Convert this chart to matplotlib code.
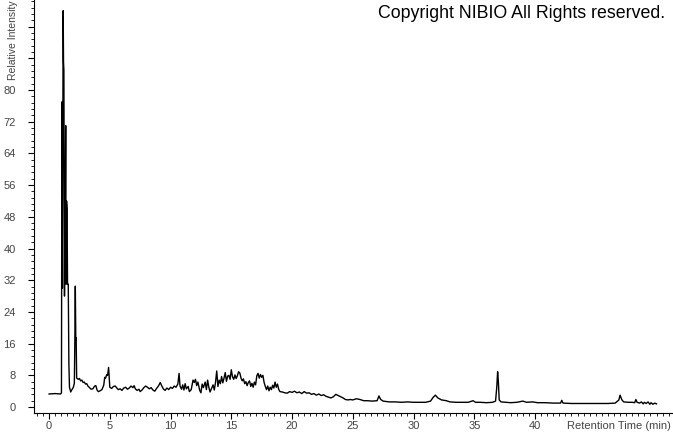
import matplotlib.pyplot as plt
from matplotlib.ticker import MultipleLocator, FixedLocator

plt.rcParams['font.family'] = ['Liberation Sans', 'DejaVu Sans']

# retention time (min) and relative intensity
time_min = [
    0.0, 0.5, 0.95, 1.02, 1.06, 1.10, 1.16, 1.19, 1.22, 1.25, 1.27, 1.30, 1.33,
    1.37, 1.40, 1.44, 1.48, 1.52, 1.58, 1.63, 1.68, 1.78, 1.9, 2.0, 2.08, 2.12,
    2.16, 2.20, 2.23, 2.27, 2.4, 2.5, 2.6, 2.7, 2.8, 2.9, 3.0, 3.1, 3.2, 3.3,
    3.45, 3.6, 3.75, 3.85, 3.95, 4.05, 4.2, 4.35, 4.5, 4.58, 4.65, 4.75, 4.82,
    4.9, 4.96, 5.0, 5.15, 5.3, 5.45, 5.55, 5.7, 5.85, 6.0, 6.15, 6.3, 6.45,
    6.6, 6.75, 6.9, 7.0, 7.1, 7.25, 7.4, 7.5, 7.65, 7.8, 7.95, 8.1, 8.25, 8.4,
    8.55, 8.7, 8.85, 9.0, 9.15, 9.25, 9.4, 9.55, 9.7, 9.85, 10.0, 10.15, 10.3,
    10.45, 10.6, 10.7, 10.78, 10.9, 11.0, 11.1, 11.2, 11.3, 11.45, 11.55, 11.7,
    11.85, 11.95, 12.05, 12.15, 12.25, 12.4, 12.5, 12.6, 12.7, 12.85, 12.95,
    13.05, 13.15, 13.25, 13.35, 13.5, 13.6, 13.7, 13.8, 13.9, 14.0, 14.1, 14.2,
    14.3, 14.4, 14.5, 14.6, 14.7, 14.8, 14.9, 15.0, 15.1, 15.2, 15.3, 15.4,
    15.5, 15.6, 15.7, 15.8, 15.9, 16.0, 16.1, 16.2, 16.3, 16.4, 16.5, 16.6,
    16.7, 16.8, 16.9, 17.0, 17.1, 17.2, 17.3, 17.4, 17.5, 17.6, 17.7, 17.8,
    17.9, 18.0, 18.1, 18.2, 18.3, 18.4, 18.5, 18.6, 18.7, 18.8, 18.9, 19.0,
    19.2, 19.4, 19.6, 19.8, 20.0, 20.2, 20.4, 20.6, 20.8, 21.0, 21.2, 21.4,
    21.6, 21.8, 22.0, 22.2, 22.4, 22.6, 22.8, 23.0, 23.2, 23.4, 23.6, 23.8,
    24.0, 24.2, 24.4, 24.6, 24.8, 25.0, 25.3, 25.6, 25.9, 26.2, 26.6, 27.0,
    27.15, 27.3, 27.5, 28.0, 28.5, 29.0, 29.5, 30.0, 30.5, 31.0, 31.4, 31.6,
    31.8, 32.0, 32.3, 32.7, 33.0, 33.5, 34.0, 34.5, 34.9, 35.1, 35.5, 36.0,
    36.5, 36.75, 36.85, 36.92, 36.98, 37.05, 37.2, 37.6, 38.0, 38.5, 39.0,
    39.3, 39.8, 40.2, 40.8, 41.5, 42.1, 42.2, 42.3, 43.0, 44.0, 45.0, 46.0,
    46.6, 46.9, 47.0, 47.15, 47.3, 47.7, 48.0, 48.2, 48.3, 48.4, 48.6, 48.75,
    48.9, 49.0, 49.15, 49.3, 49.45, 49.55, 49.7, 49.85, 50.0,
]
intensity = [
    3.3, 3.4, 3.3, 3.6, 77, 30, 100, 87, 85, 50, 28, 49, 47,
    71, 31, 52, 50, 31, 31, 11, 5, 3.8, 4.5, 5, 6, 16,
    30.5, 17, 17.5, 7.3, 7.0, 7.2, 6.6, 6.8, 6.2, 6.3, 5.8, 5.9, 5.3, 5.0,
    4.5, 4.6, 5.3, 5.4, 4.3, 3.9, 4.1, 4.4, 5.5, 7.5, 7.3, 8.2, 8.0,
    10, 7, 5.0, 4.7, 5.2, 5.3, 4.9, 4.4, 4.6, 4.2, 4.8, 5.0, 4.5,
    4.8, 5.3, 4.9, 5.4, 4.6, 4.2, 4.5, 3.9, 4.3, 4.9, 5.3, 5.0, 4.6, 4.9,
    4.3, 4.0, 4.7, 5.3, 6.2, 5.5, 4.6, 4.2, 4.8, 4.4, 5.0, 4.7, 5.3,
    5.0, 5.8, 8.5, 5.3, 4.5, 5.6, 4.3, 5.9, 4.6, 5.2, 3.9, 4.4,
    6.8, 6.2, 7.0, 5.4, 6.3, 4.2, 3.6, 5.8, 4.9, 6.3, 4.4,
    6.8, 5.0, 3.8, 4.5, 5.6, 4.3, 6.2, 9.1, 5.2, 6.8, 5.9, 7.7,
    6.1, 7.3, 8.7, 6.5, 7.8, 8.0, 7.0, 9.4, 7.6, 7.0, 8.1, 7.2,
    7.9, 8.9, 8.6, 7.3, 6.6, 7.1, 5.9, 6.4, 5.4, 6.2, 6.6, 5.2,
    6.0, 5.0, 6.3, 5.6, 7.9, 8.5, 7.3, 8.2, 7.5, 8.0, 6.2, 5.2,
    4.4, 5.3, 4.1, 5.0, 4.4, 5.5, 4.8, 6.3, 5.0, 5.8, 4.5, 3.9,
    3.8, 3.6, 3.5, 3.9, 3.7, 4.0, 3.6, 3.8, 3.4, 3.9, 3.5, 3.6,
    3.2, 3.4, 3.0, 3.3, 2.9, 3.1, 2.7, 2.5, 2.3, 2.6, 3.2, 2.9,
    2.6, 2.3, 1.9, 1.8, 1.9, 1.8, 2.1, 1.9, 1.6, 1.6, 1.5, 1.6,
    2.8, 1.9, 1.5, 1.3, 1.3, 1.2, 1.3, 1.2, 1.2, 1.2, 1.5, 2.4,
    3.0, 2.3, 1.8, 1.6, 1.3, 1.2, 1.2, 1.2, 1.6, 1.2, 1.2, 1.1,
    1.2, 1.5, 5.0, 8.9, 6.5, 1.8, 1.3, 1.2, 1.1, 1.2, 1.5,
    1.2, 1.3, 1.1, 1.1, 1.0, 1.0, 1.7, 1.0, 0.9, 0.9, 0.9, 0.9,
    1.0, 1.8, 3.0, 1.8, 1.3, 1.2, 1.2, 1.1, 1.9, 1.2, 1.0, 1.3,
    0.8, 1.2, 0.9, 1.3, 0.7, 1.1, 0.7, 1.0, 0.8,
]

x_ticks = [0, 5, 10, 15, 20, 25, 30, 35, 40]
y_ticks = [0, 8, 16, 24, 32, 40, 48, 56, 64, 72, 80]

fig = plt.figure(figsize=(6.73, 4.33), dpi=100)
ax = fig.add_axes([34 / 673, 1 - 413 / 433, 1 - 34 / 673 - 0.001, 413 / 433])

ax.plot(time_min, intensity, color='black', linewidth=1.0)

ax.set_xlim(-1.24, 51.3)
ax.set_ylim(-1.5, 102.7)

for side in ['top', 'right']:
    ax.spines[side].set_visible(False)
ax.spines['left'].set_linewidth(0.8)
ax.spines['bottom'].set_linewidth(0.8)

ax.xaxis.set_major_locator(FixedLocator(x_ticks))
ax.xaxis.set_minor_locator(MultipleLocator(0.5))
ax.yaxis.set_major_locator(FixedLocator(y_ticks + [88, 96]))
ax.yaxis.set_minor_locator(MultipleLocator(1.6))
ax.set_xticklabels([str(v) for v in x_ticks])
ax.set_yticklabels([str(v) for v in y_ticks] + ['', ''])

ax.tick_params(axis='both', which='major', length=4, width=0.8,
               labelsize=8, labelcolor='#444444', color='black')
ax.tick_params(axis='both', which='minor', length=2.5, width=0.6, color='black')
ax.tick_params(axis='x', which='major', pad=1.5)
ax.tick_params(axis='y', which='major', pad=9)

# axis titles sit where the last tick labels would be
ax.text(51.2, -0.02, 'Retention Time (min)', transform=ax.get_xaxis_transform(),
        ha='right', va='top', fontsize=8, color='#444444')
fig.text(13 / 673, 1 - 80 / 433, 'Relative Intensity', rotation=90,
         ha='center', va='bottom', fontsize=7.5, color='#444444')

fig.text(665 / 673, 1 - 14 / 433, 'Copyright NIBIO All Rights reserved.',
         ha='right', va='center', fontsize=12.8, color='black')

fig.savefig('out.png', dpi=100)
